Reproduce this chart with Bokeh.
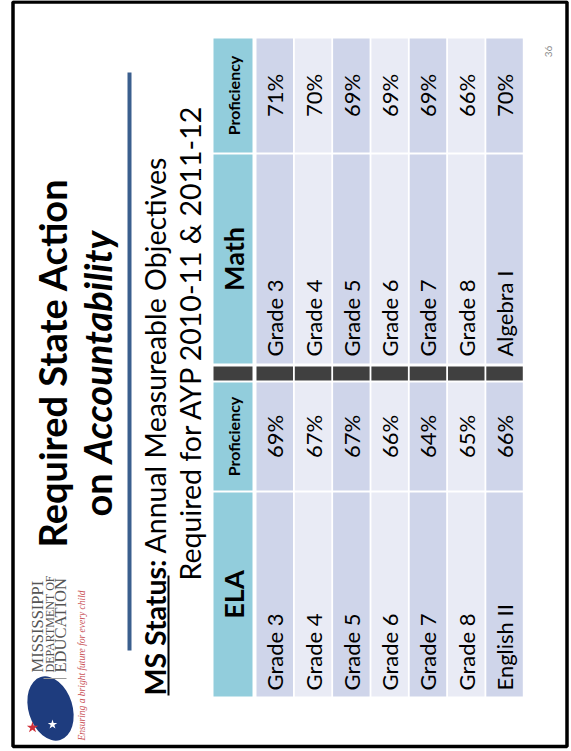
import numpy as np
from bokeh.plotting import figure
from bokeh.models import ColumnDataSource, Range1d
from bokeh.core.properties import value
from bokeh.embed import file_html
from bokeh.resources import INLINE

# ---------------- data ----------------
ela_subjects = ["Grade 3", "Grade 4", "Grade 5", "Grade 6", "Grade 7", "Grade 8", "English II"]
ela_proficiency = [69, 67, 67, 66, 64, 65, 66]
math_subjects = ["Grade 3", "Grade 4", "Grade 5", "Grade 6", "Grade 7", "Grade 8", "Algebra I"]
math_proficiency = [71, 70, 69, 69, 69, 66, 70]
header_subject = ["ELA", "Math"]
header_value = "Proficiency"
title_line1 = "Required State Action"
title_line2a = "on"
title_line2b = "Accountability"
sub_bold = "MS Status:"
sub_line1 = "Annual Measureable  Objectives"
sub_line2 = "Required for AYP  2010-11 & 2011-12"
logo_lines = ["MISSISSIPPI", "DEPARTMENT OF", "EDUCATION"]
logo_tag = "Ensuring a bright future for every child"
page_number = "36"

# ---------------- styles ----------------
FONT = "Lato"
C_HEAD = "#92CDDC"
C_DARK = "#CFD5EA"
C_LIGHT = "#E9EBF5"
C_SEP = "#404040"
C_LINE = "#3B5F8E"
UP = np.pi / 2
W, H = 571, 751

p = figure(width=W, height=H, x_range=Range1d(0, W), y_range=Range1d(H, 0),
           output_backend="svg", toolbar_location=None, min_border=0,
           x_axis_type=None, y_axis_type=None)
p.grid.visible = False
p.outline_line_color = None
p.background_fill_color = "white"

# ---------------- frame ----------------
p.quad(left=[12.5], right=[566.5], top=[1.5], bottom=[746], fill_color=None,
       line_color="black", line_width=3.5)

# ---------------- table geometry ----------------
n = len(ela_subjects)
head_l, head_r = 213, 252
row_l = [256 + 38.3 * i for i in range(n)]
row_r = [v + 36.5 for v in row_l]
bands = {"math_val": (38, 152), "math_sub": (154, 363), "sep": (366, 380),
         "ela_val": (382, 490), "ela_sub": (492, 696)}

L, R, T, B, C = [], [], [], [], []
for key, (t, b) in bands.items():
    L.append(head_l); R.append(head_r); T.append(t); B.append(b)
    C.append(C_SEP if key == "sep" else C_HEAD)
    for i in range(n):
        L.append(row_l[i]); R.append(row_r[i]); T.append(t); B.append(b)
        C.append(C_SEP if key == "sep" else (C_DARK if i % 2 == 0 else C_LIGHT))
p.quad(source=ColumnDataSource(dict(left=L, right=R, top=T, bottom=B, color=C)),
       left="left", right="right", top="top", bottom="bottom",
       fill_color="color", line_color=None)

xc = [(a + b) / 2 for a, b in zip(row_l, row_r)]
hc = (head_l + head_r) / 2


def mid(band):
    return (bands[band][0] + bands[band][1]) / 2


def txt(x, y, text, size, align="left", baseline="middle", style="normal",
        color="black", font=FONT):
    p.text(x=x, y=y, text=text, angle=UP, text_align=align, text_baseline=baseline,
           text_font=value(font), text_font_size=value(size), text_font_style=style,
           text_color=color)


# headers
txt([hc], [mid("ela_sub")], [header_subject[0]], "27px", "center", style="bold")
txt([hc], [mid("math_sub")], [header_subject[1]], "27px", "center", style="bold")
txt([hc, hc], [mid("ela_val"), mid("math_val")], [header_value, header_value],
    "16px", "center", style="bold")

# cells
txt(xc, [bands["ela_sub"][1] - 6] * n, ela_subjects, "22px", "left")
txt(xc, [bands["math_sub"][1] - 7] * n, math_subjects, "22px", "left")
txt(xc, [mid("ela_val")] * n, [f"{v}%" for v in ela_proficiency], "22px", "center")
txt(xc, [mid("math_val")] * n, [f"{v}%" for v in math_proficiency], "22px", "center")

# ---------------- titles ----------------
txt([51], [547], [title_line1], "38px", "left", "middle", "bold")
txt([96], [516], [title_line2a], "38px", "left", "middle", "bold")
txt([96], [463], [title_line2b], "38px", "left", "middle", "bold italic")

# blue rule
p.segment(x0=[129], y0=[72], x1=[129], y1=[650], line_color=C_LINE, line_width=4)

# subtitle
txt([154], [695], [sub_bold], "28.5px", "left", "middle", "bold")
p.segment(x0=[168], y0=[575], x1=[168], y1=[695], line_color="black", line_width=2)
txt([154], [553], [sub_line1], "28.5px", "left", "middle", "normal")
txt([189], [580], [sub_line2], "28.5px", "left", "middle", "normal")

# page number
txt([547.5], [51], [page_number], "10px", "center", "middle", color="#8C8C8C")

# ---------------- logo ----------------
p.ellipse(x=[50], y=[708], width=[44], height=[66], angle=0.3, fill_color="#1E3C7E",
          line_color=None)
p.scatter(x=[52], y=[724], marker="star", size=10, fill_color="white", line_color=None)
p.scatter(x=[32], y=[727], marker="star", size=12, fill_color="#D0313A", line_color=None)
p.segment(x0=[43], y0=[678], x1=[66], y1=[678], line_color="#999999", line_width=1)
txt([36.5], [672], [logo_lines[0]], "16.5px", "left", "middle", color="#555555", font="Liberation Serif")
txt([49], [672], [logo_lines[1]], "12px", "left", "middle", color="#555555", font="Liberation Serif")
txt([60], [672], [logo_lines[2]], "16.5px", "left", "middle", color="#555555", font="Liberation Serif")
txt([81.5], [740], [logo_tag], "9.5px", "left", "middle", "italic", color="#C94F55", font="Liberation Serif")

open("out.html", "w").write(file_html(p, INLINE))
